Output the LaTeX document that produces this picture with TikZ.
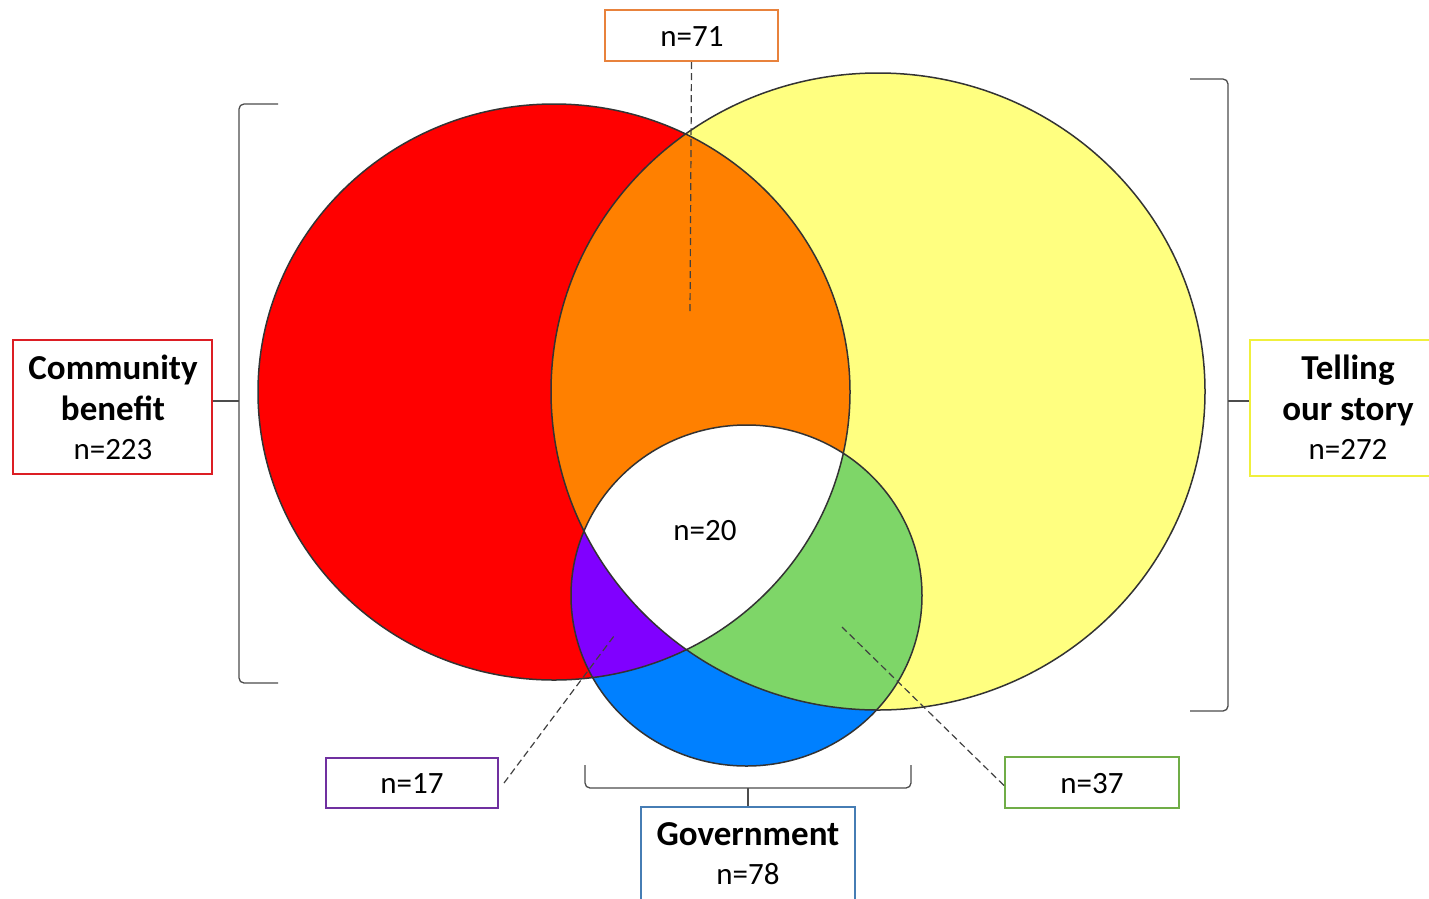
\documentclass[tikz,border=0pt]{standalone}
\usepackage{fontspec}
\setmainfont{Carlito}
\definecolor{cred}{RGB}{255,0,0}
\definecolor{cyellow}{RGB}{255,255,128}
\definecolor{corange}{RGB}{255,128,0}
\definecolor{cpurple}{RGB}{128,0,255}
\definecolor{cblue}{RGB}{0,128,255}
\definecolor{cgreen}{RGB}{126,214,104}
\definecolor{borange}{RGB}{232,130,60}
\definecolor{bred}{RGB}{220,30,36}
\definecolor{byellow}{RGB}{240,240,60}
\definecolor{bblue}{RGB}{70,125,180}
\definecolor{bpurple}{RGB}{112,48,160}
\definecolor{bgreen}{RGB}{112,173,71}
\tikzset{
  lbox/.style={draw, line width=2pt, fill=white, inner sep=0pt},
  ttl/.style={font=\fontsize{35}{35}\selectfont\bfseries, anchor=base, inner sep=0pt},
  num/.style={font=\fontsize{31}{31}\selectfont, anchor=base, inner sep=0pt},
  brk/.style={draw=black!70, line width=1.3pt, rounded corners=5pt},
  lead/.style={draw=black!75, line width=1.2pt, dashed, dash pattern=on 7pt off 4pt},
  outl/.style={draw=black!80, line width=1.5pt},
}
\begin{document}
\begin{tikzpicture}[x=1pt,y=-1pt]
\useasboundingbox (0,0) rectangle (1429,898);
\def\R{(554,392) ellipse [x radius=296pt, y radius=288pt]}
\def\Y{(878,391.5) ellipse [x radius=327pt, y radius=318.5pt]}
\def\B{(746.5,595.5) ellipse [x radius=175.5pt, y radius=170.5pt]}
% base fills
\fill[cred] \R;
\fill[cyellow] \Y;
\fill[cblue] \B;
\begin{scope}\clip \R; \fill[corange] \Y; \fill[cpurple] \B; \end{scope}
\begin{scope}\clip \Y; \fill[cgreen] \B; \end{scope}
\begin{scope}\clip \R; \clip \Y; \fill[white] \B; \end{scope}
% outlines
\path[outl] \R;
\path[outl] \Y;
\path[outl] \B;
% brackets
\coordinate (lbt) at (278,104);
\coordinate (lbb) at (278,683);
\draw[brk] (lbt) -- (239,104) -- (239,683) -- (lbb);
\coordinate (lbm) at (239,401);
\coordinate (rbt) at (1190,79);
\coordinate (rbb) at (1190,711);
\draw[brk] (rbt) -- (1228,79) -- (1228,711) -- (rbb);
\coordinate (rbm) at (1228,401);
\coordinate (bbl) at (585,765);
\coordinate (bbr) at (911,765);
\draw[brk] (bbl) -- (585,788) -- (911,788) -- (bbr);
\coordinate (bbm) at (748,788);
% boxes
\node[lbox, draw=borange, minimum width=173pt, minimum height=51pt] (b71) at (691.5,35.5) {};
\node[num] (t71) at (692,46) {n=71};
\node[lbox, draw=bred, minimum width=199pt, minimum height=134pt] (bcb) at (112.5,407) {};
\node[ttl] (tcb1) at (113,379) {Community};
\node[ttl] (tcb2) at (113,420) {benefit};
\node[num] (tcb3) at (113,459) {n=223};
\node[lbox, draw=byellow, minimum width=196pt, minimum height=136pt] (btos) at (1348,408) {};
\node[ttl] (ttos1) at (1348,379) {Telling};
\node[ttl] (ttos2) at (1348,420) {our story};
\node[num] (ttos3) at (1348,459) {n=272};
\node[lbox, draw=bblue, minimum width=214pt, minimum height=110pt] (bgov) at (748,862) {};
\node[ttl] (tgov1) at (748,845) {Government};
\node[num] (tgov2) at (748,884) {n=78};
\node[lbox, draw=bpurple, minimum width=172pt, minimum height=50pt] (b17) at (412,783) {};
\node[num] (t17) at (412,793) {n=17};
\node[lbox, draw=bgreen, minimum width=174pt, minimum height=51pt] (b37) at (1092,782.5) {};
\node[num] (t37) at (1092,793) {n=37};
\node[num] (t20) at (705,540) {n=20};
% connectors
\draw[brk] (bcb.east |- lbm) -- (lbm);
\draw[brk] (btos.west |- rbm) -- (rbm);
\draw[brk] (bbm) -- (bgov.north);
\coordinate (p71) at (690,313);
\coordinate (p17) at (614,636);
\coordinate (p37) at (842,627);
\draw[lead] (b71.south) -- (p71);
\draw[lead] ([xshift=5pt]b17.east) -- (p17);
\draw[lead] ([yshift=-3pt]b37.west) -- (p37);
\end{tikzpicture}
\end{document}
